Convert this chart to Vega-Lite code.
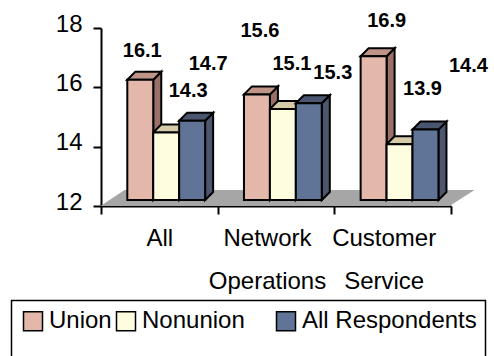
{"$schema":"https://vega.github.io/schema/vega-lite/v6.json","autosize":"none","padding":{"left":101,"top":28,"right":43,"bottom":150},"width":350,"height":178,"background":"white","config":{"view":{"stroke":null},"font":"Liberation Sans"},"data":{"values":[{"group":"All","series":"Union","value":16.1},{"group":"All","series":"Nonunion","value":14.3},{"group":"All","series":"All Respondents","value":14.7},{"group":"Network Operations","series":"Union","value":15.6},{"group":"Network Operations","series":"Nonunion","value":15.1},{"group":"Network Operations","series":"All Respondents","value":15.3},{"group":"Customer Service","series":"Union","value":16.9},{"group":"Customer Service","series":"Nonunion","value":13.9},{"group":"Customer Service","series":"All Respondents","value":14.4}]},"encoding":{"x":{"field":"group","type":"nominal","sort":["All","Network Operations","Customer Service"],"scale":{"paddingInner":0,"paddingOuter":0},"axis":{"title":null,"labelAngle":0,"labelFont":"Liberation Sans","labelFontSize":24,"labelColor":"black","labelPadding":12,"labelLineHeight":43,"labelBaseline":"top","labelExpr":"split(datum.label,' ')","tickBand":"extent","tickSize":8,"tickWidth":2,"tickColor":"black","domainColor":"black","domainWidth":2,"labelOverlap":false,"labelFlush":false,"labelLimit":300,"labelOffset":{"condition":{"test":"datum.value=='All'","value":0},"value":-9}}},"xOffset":{"field":"series","type":"nominal","sort":["Union","Nonunion","All Respondents"],"scale":{"domain":["Union","Nonunion","All Respondents"],"paddingInner":0,"paddingOuter":0,"range":[26.3,104.1]}}},"layer":[{"mark":{"type":"point","filled":false,"size":4,"opacity":1,"fill":"white","stroke":"black","strokeWidth":1.5,"shape":"M-264.5,94.5L209.5,94.5L209.5,170L-264.5,170Z"},"transform":[{"filter":"datum.value==16.1"}],"encoding":{"x":{"datum":"Network Operations"},"xOffset":null,"y":{"datum":12,"type":"quantitative","scale":{"domain":[12,18],"nice":false,"zero":false},"axis":null}}},{"mark":{"type":"point","filled":true,"size":4,"opacity":1,"fill":"#a6a6a6","stroke":null,"shape":"M-175.5,0L-151.5,-16L198.5,-16L173.5,0Z"},"transform":[{"filter":"datum.value==16.1"}],"encoding":{"x":{"datum":"Network Operations"},"xOffset":null,"y":{"datum":12,"type":"quantitative","scale":{"domain":[12,18],"nice":false,"zero":false},"axis":{"title":null,"values":[12,14,16,18],"format":"d","labelFont":"Liberation Sans","labelFontSize":24,"labelColor":"black","labelPadding":11,"labelOffset":-4,"labelBound":false,"tickSize":8,"tickWidth":2,"tickColor":"black","domainColor":"black","domainWidth":2,"grid":false}}}},{"resolve":{"scale":{"fill":"independent"},"legend":{"fill":"independent"}},"encoding":{"y":{"field":"value","type":"quantitative","scale":{"domain":[12,18],"nice":false,"zero":false,"range":[172,-4]},"axis":null}},"layer":[{"mark":{"type":"point","filled":true,"size":4,"opacity":1,"stroke":"black","strokeWidth":2},"encoding":{"fill":{"field":"series","type":"nominal","legend":null,"scale":{"domain":["Union","Nonunion","All Respondents"],"range":["#9b7068","#c9bf9c","#4d566e"]}},"shape":{"field":"value","type":"nominal","legend":null,"scale":{"domain":[16.1,14.3,14.7,15.6,15.1,15.3,16.9,13.9,14.4],"range":["M13,0L21,-8L21,112.3L13,120.3Z","M13,0L21,-8L21,59.5L13,67.5Z","M13,0L21,-8L21,71.2L13,79.2Z","M13,0L21,-8L21,97.6L13,105.6Z","M13,0L21,-8L21,82.9L13,90.9Z","M13,0L21,-8L21,88.8L13,96.8Z","M13,0L21,-8L21,135.7L13,143.7Z","M13,0L21,-8L21,47.7L13,55.7Z","M13,0L21,-8L21,62.4L13,70.4Z"]}}}},{"mark":{"type":"point","filled":true,"size":4,"opacity":1,"stroke":"black","strokeWidth":2,"shape":"M-13,0L13,0L21,-8L-5,-8Z"},"encoding":{"fill":{"field":"series","type":"nominal","legend":null,"scale":{"domain":["Union","Nonunion","All Respondents"],"range":["#c19488","#d6cba8","#4a5670"]}}}},{"mark":{"type":"bar","stroke":"black","strokeWidth":2},"encoding":{"y2":{"datum":12},"fill":{"field":"series","type":"nominal","scale":{"domain":["Union","Nonunion","All Respondents"],"range":["#e3b8ab","#fffde0","#5f7496"]},"legend":{"orient":"none","legendX":-92,"legendY":269,"title":null,"columns":3,"padding":12,"symbolType":"square","symbolSize":361,"symbolStrokeColor":"black","symbolStrokeWidth":1.5,"symbolOpacity":1,"labelFont":"Liberation Sans","labelFontSize":24,"labelColor":"black","labelOffset":4,"labelLimit":300,"columnPadding":1,"labelExpr":"datum.label=='Nonunion'?'Nonunion\u00a0\u00a0\u00a0\u00a0\u2060':datum.label"}}}},{"transform":[{"filter":"datum.value==16.1"}],"mark":{"type":"text","font":"Liberation Sans","fontWeight":"bold","fontSize":20,"color":"black","baseline":"middle","dx":2,"dy":-29},"encoding":{"text":{"field":"value","format":".1f"}}},{"transform":[{"filter":"datum.value==14.3"}],"mark":{"type":"text","font":"Liberation Sans","fontWeight":"bold","fontSize":20,"color":"black","baseline":"middle","dx":22,"dy":-42},"encoding":{"text":{"field":"value","format":".1f"}}},{"transform":[{"filter":"datum.value==14.7"}],"mark":{"type":"text","font":"Liberation Sans","fontWeight":"bold","fontSize":20,"color":"black","baseline":"middle","dx":16,"dy":-57},"encoding":{"text":{"field":"value","format":".1f"}}},{"transform":[{"filter":"datum.value==15.6"}],"mark":{"type":"text","font":"Liberation Sans","fontWeight":"bold","fontSize":20,"color":"black","baseline":"middle","dx":3,"dy":-63},"encoding":{"text":{"field":"value","format":".1f"}}},{"transform":[{"filter":"datum.value==15.1"}],"mark":{"type":"text","font":"Liberation Sans","fontWeight":"bold","fontSize":20,"color":"black","baseline":"middle","dx":9,"dy":-45},"encoding":{"text":{"field":"value","format":".1f"}}},{"transform":[{"filter":"datum.value==15.3"}],"mark":{"type":"text","font":"Liberation Sans","fontWeight":"bold","fontSize":20,"color":"black","baseline":"middle","dx":24,"dy":-30},"encoding":{"text":{"field":"value","format":".1f"}}},{"transform":[{"filter":"datum.value==16.9"}],"mark":{"type":"text","font":"Liberation Sans","fontWeight":"bold","fontSize":20,"color":"black","baseline":"middle","dx":13,"dy":-35},"encoding":{"text":{"field":"value","format":".1f"}}},{"transform":[{"filter":"datum.value==13.9"}],"mark":{"type":"text","font":"Liberation Sans","fontWeight":"bold","fontSize":20,"color":"black","baseline":"middle","dx":23,"dy":-55},"encoding":{"text":{"field":"value","format":".1f"}}},{"transform":[{"filter":"datum.value==14.4"}],"mark":{"type":"text","font":"Liberation Sans","fontWeight":"bold","fontSize":20,"color":"black","baseline":"middle","dx":43,"dy":-64},"encoding":{"text":{"field":"value","format":".1f"}}}]}],"resolve":{"scale":{"y":"independent"}}}
